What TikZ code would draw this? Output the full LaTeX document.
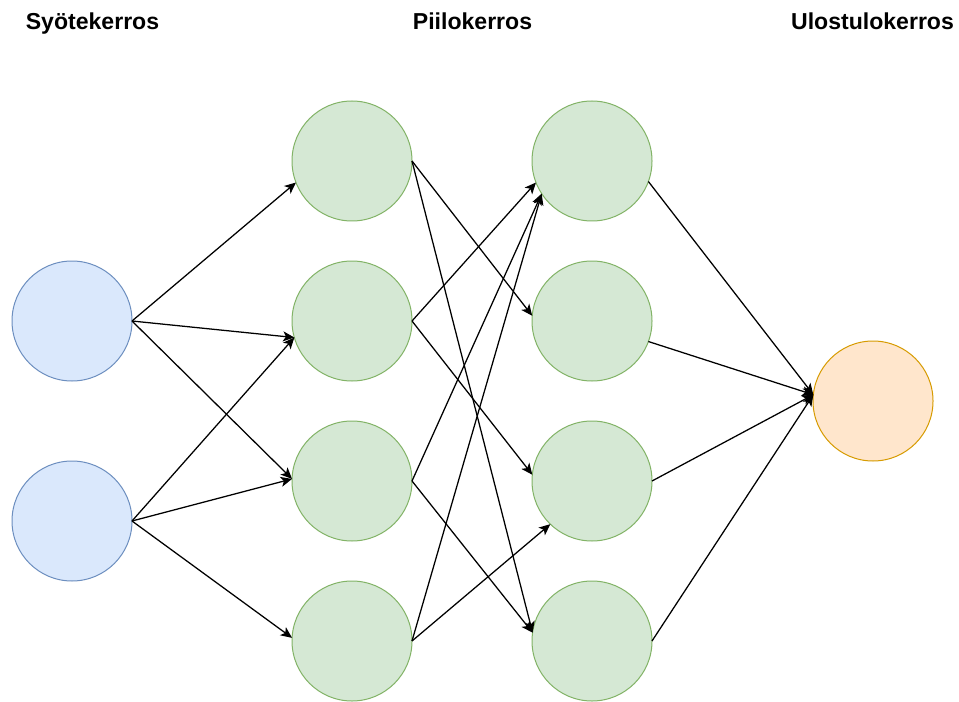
\documentclass[tikz,border=0pt]{standalone}
\usepackage{fontspec}
\setmainfont{Liberation Sans}
\usetikzlibrary{arrows.meta}
\definecolor{inpF}{HTML}{DAE8FC}
\definecolor{inpB}{HTML}{6C8EBF}
\definecolor{hidF}{HTML}{D5E8D4}
\definecolor{hidB}{HTML}{82B366}
\definecolor{outF}{HTML}{FFE6CC}
\definecolor{outB}{HTML}{D79B00}
\begin{document}
\begin{tikzpicture}[x=0.75pt,y=-0.75pt,
  neuron/.style={circle, minimum size=90pt, inner sep=0pt, outer sep=0pt, line width=0.75pt},
  inp/.style={neuron, draw=inpB, fill=inpF},
  hid/.style={neuron, draw=hidB, fill=hidF},
  outn/.style={neuron, draw=outB, fill=outF},
  conn/.style={draw=black, line width=0.95pt, -{Stealth[length=8.5pt,width=7.5pt,inset=2.2pt]}},
  title/.style={font=\bfseries\fontsize{17.3}{20}\selectfont, anchor=base, inner sep=0pt}
]
\fill[white] (0,0) rectangle (959,702);
\useasboundingbox (0,0) rectangle (959,702);

% titles
\node[title] (t1) at (92.5,30) {Syötekerros};
\node[title] (t2) at (472.5,30) {Piilokerros};
\node[title] (t3) at (872.5,30) {Ulostulokerros};

% neurons
\node[inp] (in1) at (72,321) {};
\node[inp] (in2) at (72,521) {};
\node[hid] (h1a) at (352,161) {};
\node[hid] (h1b) at (352,321) {};
\node[hid] (h1c) at (352,481) {};
\node[hid] (h1d) at (352,641) {};
\node[hid] (h2a) at (592,161) {};
\node[hid] (h2b) at (592,321) {};
\node[hid] (h2c) at (592,481) {};
\node[hid] (h2d) at (592,641) {};
\node[outn] (out) at (873,401) {};

% input -> hidden 1
\draw[conn] (in1.east) -- (h1a.201);
\draw[conn] (in1.east) -- (h1b.196);
\draw[conn] (in1.east) -- (h1c.178);
\draw[conn] (in2.east) -- (h1b.196);
\draw[conn] (in2.east) -- (h1c.178);
\draw[conn] (in2.east) -- (h1d.177);

% hidden 1 -> hidden 2
\draw[conn] (h1a.east) -- (h2b.175);
\draw[conn] (h1a.east) -- (h2d.172);
\draw[conn] (h1b.east) -- (h2a.201);
\draw[conn] (h1b.east) -- (h2c.174);
\draw[conn] (h1c.east) -- (h2a.213);
\draw[conn] (h1c.east) -- (h2d.172);
\draw[conn] (h1d.east) -- (h2a.213);
\draw[conn] (h1d.east) -- (h2c.226);

% hidden 2 -> output
\draw[conn] (h2a.340) -- (out.174);
\draw[conn] (h2b.340) -- (out.174);
\draw[conn] (h2c.east) -- (out.174);
\draw[conn] (h2d.east) -- (out.174);
\end{tikzpicture}
\end{document}
